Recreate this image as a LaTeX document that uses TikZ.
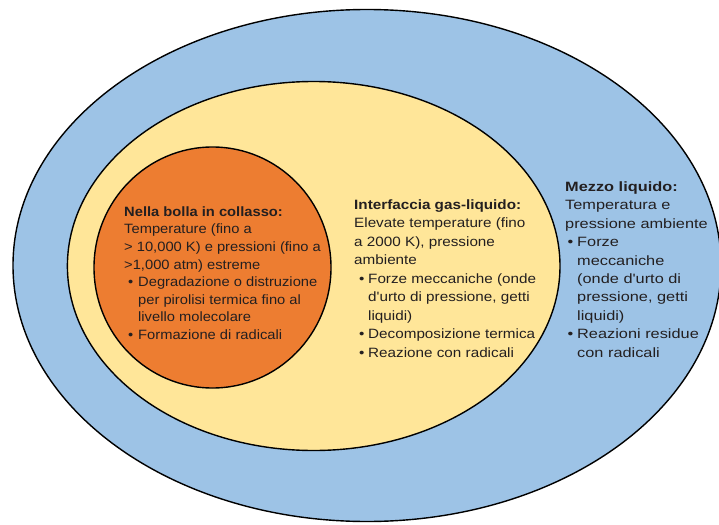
\documentclass[tikz,border=0pt]{standalone}
\usepackage{fontspec}
\setmainfont{Liberation Sans}
\newfontfamily\fo[FakeStretch=1.09]{Liberation Sans}
\newfontfamily\fy[FakeStretch=1.13]{Liberation Sans}
\newfontfamily\fb[FakeStretch=1.21]{Liberation Sans}
\definecolor{blueC}{RGB}{157,195,230}
\definecolor{yelC}{RGB}{255,230,153}
\definecolor{oraC}{RGB}{237,125,49}
\definecolor{txtC}{RGB}{35,31,32}
\newcommand{\fstrut}{\rule{0pt}{11pt}}
\newcommand{\bul}[2]{\makebox[#2][l]{\hspace*{#1}•}}
\begin{document}
\begin{tikzpicture}[x=1pt,y=-1pt,
  outline/.style={draw=black, line width=1.4pt},
  txt/.style={text=txtC, align=left, inner sep=0pt, anchor=north west}]
\useasboundingbox[fill=white] (0,0) rectangle (719,524);
\draw[outline, fill=blueC] (367,265.5) ellipse [x radius=354pt, y radius=256pt];
\draw[outline, fill=yelC] (313.7,266) ellipse [x radius=246.3pt, y radius=184.5pt];
\draw[outline, fill=oraC] (212.5,267.5) ellipse [x radius=118.5pt, y radius=120.5pt];

\node[txt, font=\fo\fontsize{13.5}{17.6}\selectfont] (bolla) at (124,205) {%
\fstrut\textbf{Nella bolla in collasso:}\\
Temperature (fino a\\
> 10,000 K) e pressioni (fino a\\
>1,000 atm) estreme\\
\bul{4pt}{14pt}Degradazione o distruzione\\
\hspace*{14pt}per pirolisi termica fino al\\
\hspace*{14pt}livello molecolare\\
\bul{4pt}{14pt}Formazione di radicali};

\node[txt, font=\fy\fontsize{13.5}{18.5}\selectfont] (interf) at (354,198) {%
\fstrut\textbf{Interfaccia gas-liquido:}\\
Elevate temperature (fino\\
a 2000 K), pressione\\
ambiente\\
\bul{5pt}{14pt}Forze meccaniche (onde\\
\hspace*{14pt}d'urto di pressione, getti\\
\hspace*{14pt}liquidi)\\
\bul{5pt}{14pt}Decomposizione termica\\
\bul{5pt}{14pt}Reazione con radicali};

\node[txt, font=\fb\fontsize{13.5}{18.45}\selectfont] (mezzo) at (565,180) {%
\fstrut\textbf{Mezzo liquido:}\\
Temperatura e\\
pressione ambiente\\
\bul{2.5pt}{12pt}Forze\\
\hspace*{12pt}meccaniche\\
\hspace*{12pt}(onde d'urto di\\
\hspace*{12pt}pressione, getti\\
\hspace*{12pt}liquidi)\\
\bul{2.5pt}{12pt}Reazioni residue\\
\hspace*{12pt}con radicali};
\end{tikzpicture}
\end{document}
